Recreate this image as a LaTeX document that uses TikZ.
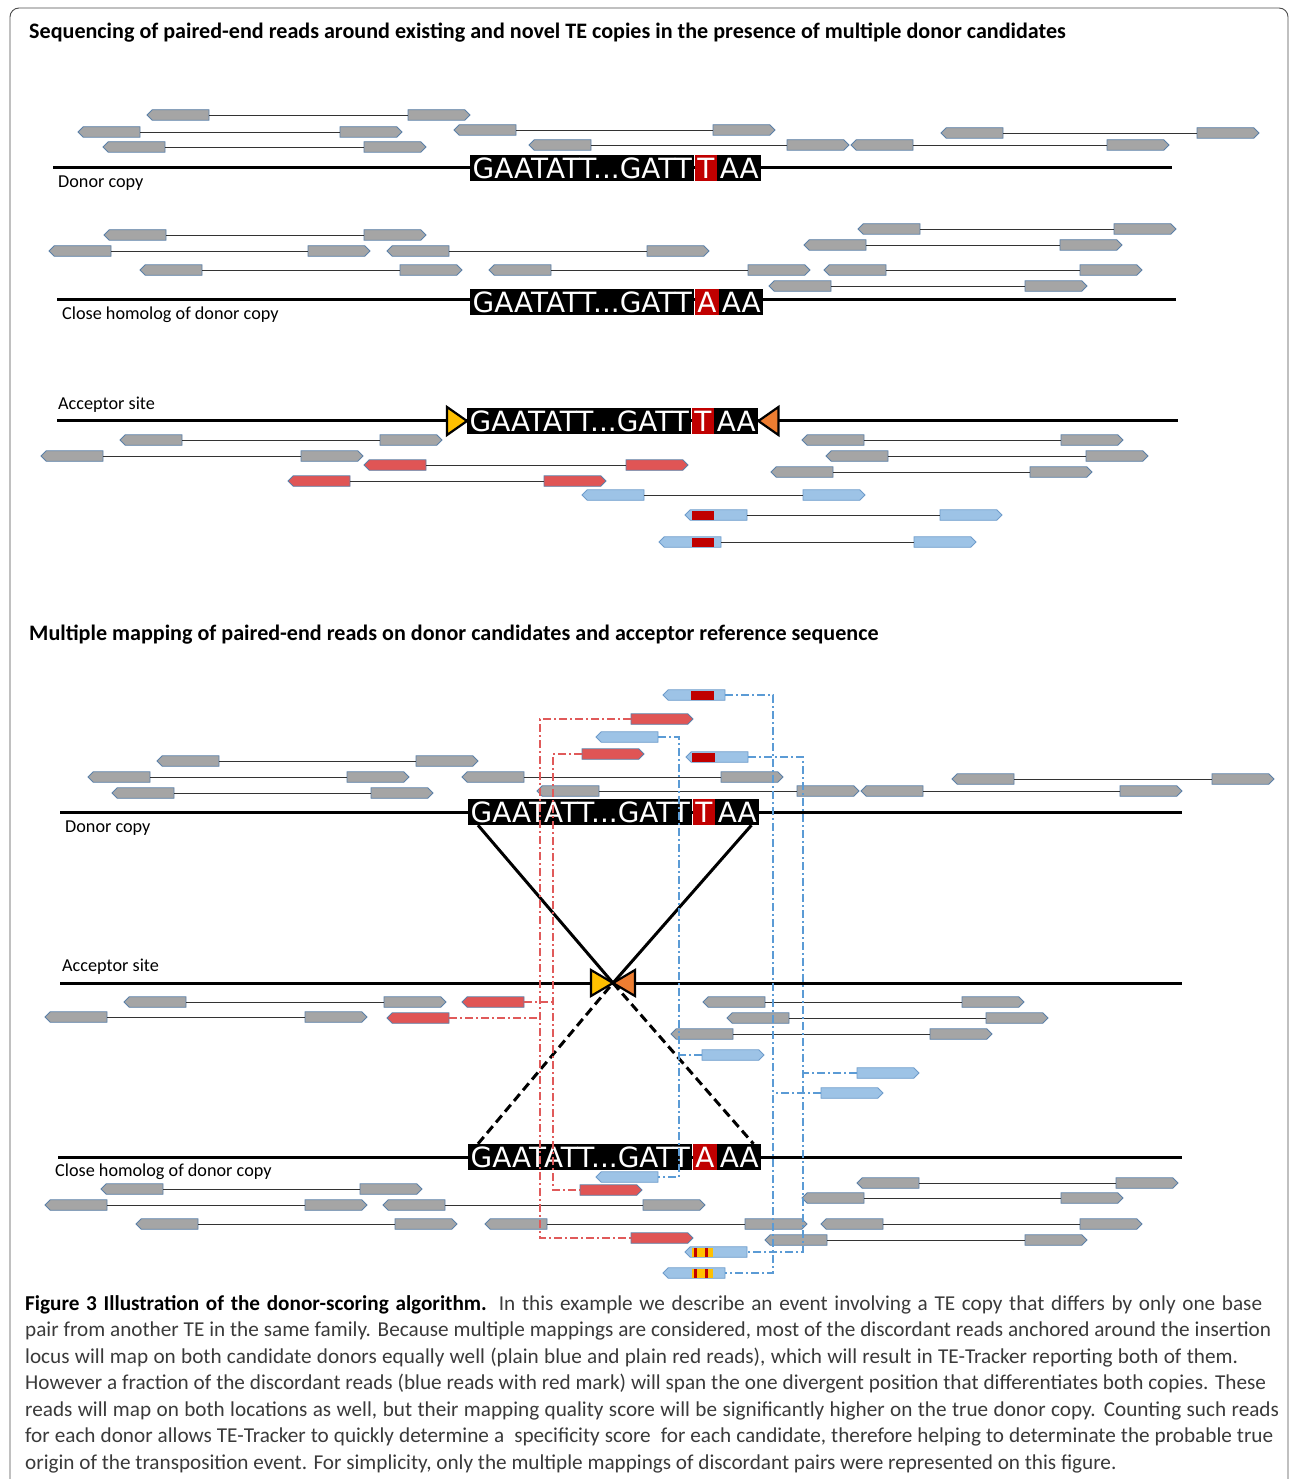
\documentclass[tikz,border=0pt]{standalone}
\usepackage{fontspec}
\setmainfont{Carlito}
\newfontfamily\seqfont{DejaVu Sans}
\usetikzlibrary{shapes.symbols,positioning,calc}

\definecolor{readgray}{HTML}{A5A5A5}
\definecolor{readline}{HTML}{5B80A8}
\definecolor{readred}{HTML}{E05555}
\definecolor{readblue}{HTML}{9DC3E6}
\definecolor{blueline}{HTML}{6E9CCB}
\definecolor{markred}{HTML}{C00000}
\definecolor{markyel}{HTML}{FFC000}
\definecolor{triorange}{HTML}{ED7D31}
\definecolor{dashred}{HTML}{E05A5A}
\definecolor{dashblue}{HTML}{5B9BD5}
\definecolor{captext}{HTML}{3A3A3A}

\tikzset{
  read/.style={signal, signal from=nowhere, draw=readline, line width=0.9pt,
    minimum width=62pt, minimum height=10.5pt, inner sep=0pt, outer sep=0pt},
  gread/.style={read, fill=readgray},
  redread/.style={read, fill=readred},
  blueread/.style={read, fill=readblue, draw=blueline},
  pl/.style={signal to=west, anchor=east},
  pr/.style={signal to=east, anchor=west},
  mate/.style={draw=black!80, line width=0.9pt},
  genome/.style={line width=3pt},
  seq/.style={fill=black, text=white, font=\seqfont\fontsize{27.9}{27.9}\selectfont,
    inner xsep=2.5pt, inner ysep=0pt, minimum height=26pt, text height=20.3pt, text depth=0pt},
  lab/.style={anchor=west, inner sep=0pt, font=\fontsize{18.2}{20}\selectfont},
  ttl/.style={anchor=west, inner sep=0pt, font=\bfseries\fontsize{22.1}{24}\selectfont},
  reddash/.style={draw=dashred, line width=1.3pt, dash pattern=on 8pt off 3pt on 2pt off 3pt},
  bluedash/.style={draw=dashblue, line width=1.3pt, dash pattern=on 8pt off 3pt on 2pt off 3pt},
  tri/.style={draw=black, line width=2.2pt, line join=miter},
}
% ligne de legende a largeur fixe
\newcommand{\capline}[2]{\makebox[#1pt][s]{#2}}

\begin{document}
\begin{tikzpicture}[x=1pt,y=-1pt]
  \useasboundingbox (0,0) rectangle (1290,1479);
  \draw[black!70, line width=0.9pt, rounded corners=9pt] (10,1479) -- (10,8) -- (1288,8) -- (1288,1479);

  % ---- partie haute : lectures autour des copies
  \node[ttl] (t1) at (29,33) {Sequencing of paired-end reads around existing and novel TE copies in the presence of multiple donor candidates};

  % copie donneuse
  \draw[genome] (53,168) -- (1172,168);
  \node[seq, anchor=west] (s1a) at (470,168) {GAATATT...GATT};
  \node[seq, fill=markred, right=0pt of s1a] (s1b) {T};
  \node[seq, right=0pt of s1b] (s1c) {AA};
  \node[lab] (l1) at (58,183) {Donor copy};
  \foreach \xa/\xb/\y [count=\i] in {147/470/115, 78/402/132, 103/426/147, 454/775/130,
      529/849/145, 851/1169/145, 941/1259/133}{
    \node[gread,pl] (da\i) at (\xa+62,\y) {};
    \node[gread,pr] (db\i) at (\xb-62,\y) {};
    \draw[mate] (da\i) -- (db\i);
  }

  % homologue proche
  \draw[genome] (57,299) -- (1176,299);
  \node[seq, anchor=west] (s2a) at (470,302) {GAATATT...GATT};
  \node[seq, fill=markred, right=0pt of s2a] (s2b) {A};
  \node[seq, right=0pt of s2b] (s2c) {AA};
  \node[lab] (l2) at (62,315) {Close homolog of donor copy};
  \foreach \xa/\xb/\y [count=\i] in {104/426/235, 49/370/251, 140/462/270, 387/709/251,
      489/810/270, 858/1176/229, 804/1122/245, 824/1142/270, 769/1087/286}{
    \node[gread,pl] (ha\i) at (\xa+62,\y) {};
    \node[gread,pr] (hb\i) at (\xb-62,\y) {};
    \draw[mate] (ha\i) -- (hb\i);
  }

  % site accepteur
  \draw[genome] (57,420) -- (1178,420);
  \node[seq, anchor=west] (s3a) at (467,421) {GAATATT...GATT};
  \node[seq, fill=markred, right=0pt of s3a] (s3b) {T};
  \node[seq, right=0pt of s3b] (s3c) {AA};
  \draw[tri, fill=markyel] (s3a.west) -- ++(-20,-14) -- ++(0,28) -- cycle;
  \draw[tri, fill=triorange] (s3c.east) -- ++(20,-14) -- ++(0,28) -- cycle;
  \node[lab] (l3) at (58,405) {Acceptor site};
  \foreach \xa/\xb/\y [count=\i] in {120/442/440, 41/363/456, 802/1123/440, 826/1148/456, 771/1092/472}{
    \node[gread,pl] (aa\i) at (\xa+62,\y) {};
    \node[gread,pr] (ab\i) at (\xb-62,\y) {};
    \draw[mate] (aa\i) -- (ab\i);
  }
  \foreach \xa/\xb/\y [count=\i] in {364/688/465, 288/606/481}{
    \node[redread,pl] (ra\i) at (\xa+62,\y) {};
    \node[redread,pr] (rb\i) at (\xb-62,\y) {};
    \draw[mate] (ra\i) -- (rb\i);
  }
  \foreach \xa/\xb/\y [count=\i] in {582/865/495, 685/1002/515, 659/976/542}{
    \node[blueread,pl] (ba\i) at (\xa+62,\y) {};
    \node[blueread,pr] (bb\i) at (\xb-62,\y) {};
    \draw[mate] (ba\i) -- (bb\i);
  }
  \fill[markred] (692,510.5) rectangle (714,519.5);
  \fill[markred] (692,537.5) rectangle (714,546.5);

  % ---- partie basse : alignements multiples
  \node[ttl] (t2) at (29,635) {Multiple mapping of paired-end reads on donor candidates and acceptor reference sequence};

  \draw[genome] (60,812) -- (1182,812);
  \draw[genome] (60,983) -- (1182,983);
  \draw[genome] (58,1157) -- (1182,1157);
  \node[seq, anchor=west] (s4a) at (468,812) {GAATATT...GATT};
  \node[seq, fill=markred, right=0pt of s4a] (s4b) {T};
  \node[seq, right=0pt of s4b] (s4c) {AA};
  \node[seq, anchor=west] (s5a) at (468,1157) {GAATATT...GATT};
  \node[seq, fill=markred, right=0pt of s5a] (s5b) {A};
  \node[seq, right=0pt of s5b] (s5c) {AA};
  \node[lab] (l4) at (65,828) {Donor copy};
  \node[lab] (l5) at (62,967) {Acceptor site};
  \node[lab] (l6) at (55,1172) {Close homolog of donor copy};

  \coordinate (ins) at (613,983);
  \draw[tri, fill=markyel] (ins) -- ++(-22,-13) -- ++(0,26) -- cycle;
  \draw[tri, fill=triorange] (ins) -- ++(22,-13) -- ++(0,26) -- cycle;
  \draw[line width=3pt] ($(s4a.south west)+(10,0)$) -- (ins) -- ($(s4c.south east)+(-8,0)$);
  \draw[line width=3pt, dash pattern=on 9pt off 5pt] ($(s5a.north west)+(10,0)$) -- (ins) -- ($(s5c.north east)+(-8,0)$);

  % paires grises
  \foreach \xa/\xb/\y [count=\i] in {157/478/761, 88/409/777, 112/433/793, 462/783/777,
      537/859/791, 861/1182/791, 952/1274/779}{
    \node[gread,pl] (ea\i) at (\xa+62,\y) {};
    \node[gread,pr] (eb\i) at (\xb-62,\y) {};
    \draw[mate] (ea\i) -- (eb\i);
  }
  \foreach \xa/\xb/\y [count=\i] in {124/446/1002, 45/367/1017, 703/1024/1002, 727/1048/1018, 671/992/1034}{
    \node[gread,pl] (fa\i) at (\xa+62,\y) {};
    \node[gread,pr] (fb\i) at (\xb-62,\y) {};
    \draw[mate] (fa\i) -- (fb\i);
  }
  \foreach \xa/\xb/\y [count=\i] in {101/422/1189, 45/367/1205, 383/705/1205, 136/457/1224,
      485/807/1224, 857/1178/1183, 802/1123/1198, 821/1142/1224, 765/1087/1240}{
    \node[gread,pl] (ga\i) at (\xa+62,\y) {};
    \node[gread,pr] (gb\i) at (\xb-62,\y) {};
    \draw[mate] (ga\i) -- (gb\i);
  }

  % lectures discordantes
  \node[redread,pr] (rx1) at (631,719) {};
  \node[redread,pl] (rx2) at (449,1018) {};
  \node[redread,pr] (rx3) at (631,1238) {};
  \node[redread,pr] (ry1) at (582,754) {};
  \node[redread,pl] (ry2) at (524,1002) {};
  \node[redread,pr] (ry3) at (580,1190) {};
  \node[blueread,pl] (bx1) at (658,737) {};
  \node[blueread,pr] (bx2) at (702,1055) {};
  \node[blueread,pl] (bx3) at (658,1177) {};
  \node[blueread,pl] (by1) at (725,695) {};
  \node[blueread,pr] (by2) at (821,1093) {};
  \node[blueread,pl] (by3) at (725,1273) {};
  \node[blueread,pl] (bz1) at (748,757) {};
  \node[blueread,pr] (bz2) at (857,1073) {};
  \node[blueread,pl] (bz3) at (747,1252) {};
  \fill[markred] (691,690.5) rectangle (714,699.5);
  \fill[markred] (692,752.5) rectangle (715,761.5);
  \foreach \y in {1252,1273}{
    \fill[markyel] (692,\y-4.5) rectangle (713,\y+4.5);
    \fill[markred] (694,\y-4.5) rectangle (697,\y+4.5);
    \fill[markred] (705,\y-4.5) rectangle (708,\y+4.5);
  }

  \coordinate (cx) at (540,0);
  \coordinate (cy) at (553,0);
  \coordinate (kx) at (679,0);
  \coordinate (ky) at (773,0);
  \coordinate (kz) at (803,0);
  \draw[reddash] (rx1.west) -| (cx |- rx3.west) -- (rx3.west);
  \draw[reddash] (rx2.east) -- (cx |- rx2.east);
  \draw[reddash] (ry1.west) -| (cy |- ry3.west) -- (ry3.west);
  \draw[reddash] (ry2.east) -- (cy |- ry2.east);
  \draw[bluedash] (bx1.east) -| (kx |- bx3.east) -- (bx3.east);
  \draw[bluedash] (bx2.west) -- (kx |- bx2.west);
  \draw[bluedash] (by1.east) -| (ky |- by3.east) -- (by3.east);
  \draw[bluedash] (by2.west) -- (ky |- by2.west);
  \draw[bluedash] (bz1.east) -| (kz |- bz3.east) -- (bz3.east);
  \draw[bluedash] (bz2.west) -- (kz |- bz2.west);

  % legende
  \node[anchor=north west, inner sep=0pt, align=left, text=captext,
        font=\fontsize{21.2}{26.5}\selectfont] (cap) at (25,1295) {%
    \capline{1237}{{\color{black}\bfseries Figure 3 Illustration of the donor-scoring algorithm.} In this example we describe an event involving a TE copy that differs by only one base}\\
    \capline{1246}{pair from another TE in the same family. Because multiple mappings are considered, most of the discordant reads anchored around the insertion}\\
    \capline{1213}{locus will map on both candidate donors equally well (plain blue and plain red reads), which will result in TE-Tracker reporting both of them.}\\
    \capline{1241}{However a fraction of the discordant reads (blue reads with red mark) will span the one divergent position that differentiates both copies. These}\\
    \capline{1254}{reads will map on both locations as well, but their mapping quality score will be significantly higher on the true donor copy. Counting such reads}\\
    \capline{1248}{for each donor allows TE-Tracker to quickly determine a \ specificity score \ for each candidate, therefore helping to determinate the probable true}\\
    origin of the transposition event. For simplicity, only the multiple mappings of discordant pairs were represented on this figure.};
\end{tikzpicture}
\end{document}
